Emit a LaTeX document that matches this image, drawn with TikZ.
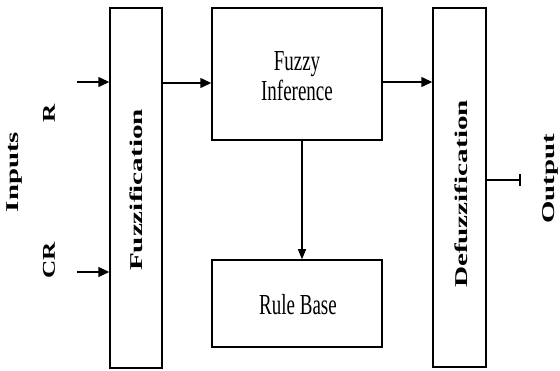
\documentclass[tikz,border=0pt]{standalone}
\usepackage{fontspec}
\setmainfont{Liberation Serif}
\usetikzlibrary{arrows.meta}
\begin{document}
\begin{tikzpicture}[x=1pt,y=-1pt,
  box/.style={draw,line width=1.5pt,inner sep=0pt},
  arr/.style={line width=1.5pt,-{Triangle[length=11pt,width=10pt]}},
  vlab/.style={rotate=90,inner sep=0pt,font=\fontsize{18}{18}\selectfont\bfseries},
  hlab/.style={inner sep=0pt,align=center,font=\fontsize{20}{21.5}\selectfont}]
\useasboundingbox (0,0) rectangle (560,371);
% boxes
\node[box,minimum width=52pt,minimum height=360pt] (fz) at (136,188) {};
\node[box,minimum width=170pt,minimum height=132pt] (fi) at (297,74) {};
\node[box,minimum width=170pt,minimum height=87pt] (rb) at (297,303.5) {};
\node[box,minimum width=53pt,minimum height=359pt] (dz) at (459.5,187.5) {};
% labels
\node[vlab] (lfz) at (136.5,190) {\scalebox{1.62}[1]{Fuzzification}};
\node[vlab] (ldz) at (461,194) {\scalebox{1.62}[1]{Defuzzification}};
\node[vlab] (lin) at (15,172) {\scalebox{1.6}[1]{Inputs}};
\node[vlab] (lr) at (49,113) {\scalebox{1.4}[1]{R}};
\node[vlab] (lcr) at (49,260) {\scalebox{1.4}[1]{CR}};
\node[vlab] (lout) at (550,179) {\scalebox{1.6}[1]{Output}};
\node[hlab] (tfi) at (297,76) {\scalebox{0.95}[1.45]{Fuzzy}\\[2pt]\scalebox{0.95}[1.45]{Inference}};
\node[hlab] (trb) at (298,305) {\scalebox{0.95}[1.45]{Rule Base}};
% connectors
\coordinate (inR) at (77,82);
\coordinate (inCR) at (77,272);
\coordinate (outE) at (521,180);
\draw[arr] (inR) -- (inR -| fz.west);
\draw[arr] (inCR) -- (inCR -| fz.west);
\draw[arr] (fz.east |- 0,83) -- (fi.west |- 0,83);
\draw[arr] (fi.east |- 0,82) -- (dz.west |- 0,82);
\draw[line width=1.2pt,-{Triangle[length=10pt,width=8pt]}] (fi.south -| 302,0) -- (rb.north -| 302,0);
\draw[line width=1.5pt,-{Bar[width=12pt,line width=1.8pt]}] (dz.east |- outE) -- (outE);
\end{tikzpicture}
\end{document}
